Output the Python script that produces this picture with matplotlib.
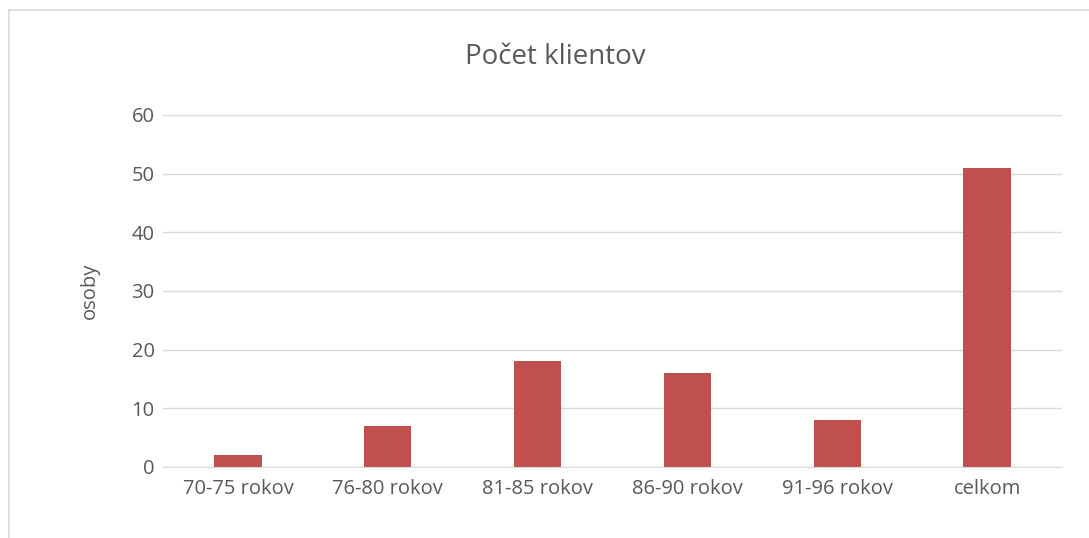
import matplotlib.pyplot as plt
from matplotlib.patches import Rectangle

categories = ["70-75 rokov", "76-80 rokov", "81-85 rokov", "86-90 rokov", "91-96 rokov", "celkom"]
values = [2, 7, 18, 16, 8, 51]
yticks = [0, 10, 20, 30, 40, 50, 60]

text_color = "#595959"
grid_color = "#D9D9D9"
bar_color = "#C0504D"

plt.rcParams['font.family'] = ['Open Sans', 'DejaVu Sans']

fig = plt.figure(figsize=(10.89, 5.38), dpi=100)
# chart border
fig.patches.append(Rectangle((9 / 1089, -0.1), 1.2, 1.1 - 10 / 538,
                             transform=fig.transFigure, fill=False,
                             edgecolor=grid_color, linewidth=1.2))

ax = fig.add_axes([163 / 1089, 1 - 467 / 538, (1062 - 163) / 1089, (467 - 115) / 538])
x = range(len(categories))
ax.bar(x, values, width=0.315, color=bar_color, zorder=3)

ax.set_xlim(-0.5, len(categories) - 0.5)
ax.set_ylim(0, 60)
ax.set_yticks(yticks)
ax.set_xticks(list(x))
ax.set_xticklabels(categories)
ax.grid(axis='y', color=grid_color, linewidth=1, zorder=0)
for s in ax.spines.values():
    s.set_visible(False)
ax.spines['bottom'].set_visible(True)
ax.spines['bottom'].set_color(grid_color)
ax.spines['bottom'].set_zorder(4)
ax.tick_params(axis='both', length=0, labelsize=14.5, colors=text_color)
ax.tick_params(axis='y', pad=6)
ax.tick_params(axis='x', pad=9)
ax.set_ylabel("osoby", fontsize=14.5, color=text_color, labelpad=23)
fig.text(555 / 1089, 1 - 57 / 538, "Počet klientov", fontsize=20, color=text_color,
         ha='center', va='center')

fig.savefig("out.png", dpi=100)
